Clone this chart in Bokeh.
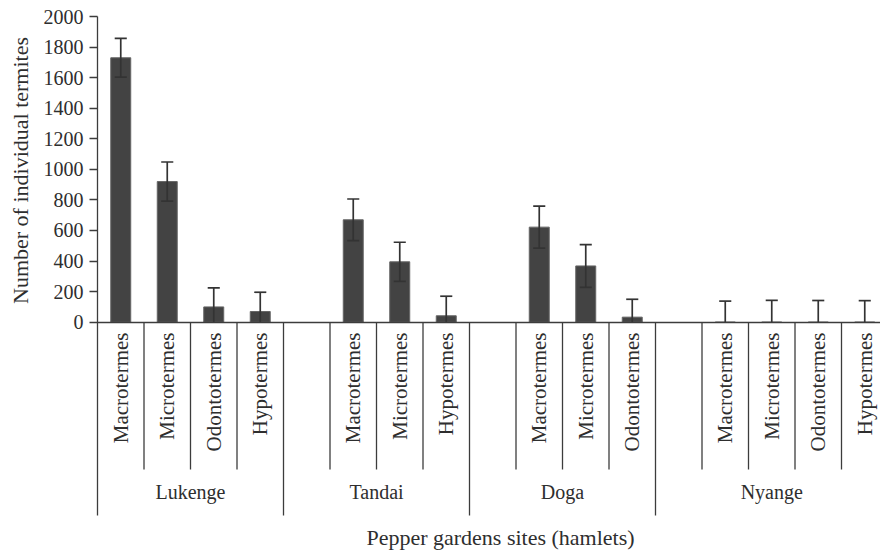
import math
from bokeh.plotting import figure
from bokeh.models import Range1d, FixedTicker, Label
from bokeh.core.properties import value
from bokeh.embed import file_html
from bokeh.resources import INLINE

# ---- data -------------------------------------------------------------
groups = ["Lukenge", "Tandai", "Doga", "Nyange"]
genera_lukenge = ["Macrotermes", "Microtermes", "Odontotermes", "Hypotermes"]
genera_tandai = ["Macrotermes", "Microtermes", "Hypotermes"]
genera_doga = ["Macrotermes", "Microtermes", "Odontotermes"]
genera_nyange = ["Macrotermes", "Microtermes", "Odontotermes", "Hypotermes"]
counts_lukenge = [1730, 920, 100, 70]
counts_tandai = [670, 395, 42]
counts_doga = [622, 368, 33]
counts_nyange = [0, 0, 0, 0]
err_lukenge = [127, 128, 125, 126]
err_tandai = [136, 128, 128]
err_doga = [137, 140, 117]
err_nyange = [138, 143, 142, 141]
y_ticks = [0, 200, 400, 600, 800, 1000, 1200, 1400, 1600, 1800, 2000]
y_title = "Number of individual termites"
x_title = "Pepper gardens sites (hamlets)"

genera = [genera_lukenge, genera_tandai, genera_doga, genera_nyange]
counts = [counts_lukenge, counts_tandai, counts_doga, counts_nyange]
errors = [err_lukenge, err_tandai, err_doga, err_nyange]

# ---- layout (pixel geometry -> data ranges) ---------------------------
FONT = "Liberation Serif"
TXT = "#2e2e2e"
LINE = "#3c3c3c"
W, H = 880, 553
AXIS_X = 97.0          # px of category origin
ZERO_Y = 321.7         # px of value 0
TOP_Y = 16.0           # px of value 2000
SLOT_PX = 46.5
Y_PX = (ZERO_Y - TOP_Y) / 2000.0

def px_to_x(px):
    return (px - AXIS_X) / SLOT_PX

def py_to_y(py):
    return (ZERO_Y - py) / Y_PX

X_START, X_END = px_to_x(0), px_to_x(W)
Y_START, Y_END = py_to_y(H), py_to_y(0)
LINE_BOTTOM = py_to_y(515)   # bottom of long dividers / value axis line
SHORT_END = py_to_y(469)     # bottom of short dividers
LABEL_TOP = py_to_y(332)     # top end of rotated category labels
GROUP_Y = py_to_y(491)       # group label centre

xs, vals, errs, names = [], [], [], []
spans = []
slot = 0
for gi, (gen, cnt, err) in enumerate(zip(genera, counts, errors)):
    start = slot
    if gi > 0:
        slot += 1          # blank category before each later group
    for n, c, e in zip(gen, cnt, err):
        xs.append(slot + 0.5)
        vals.append(c)
        errs.append(e)
        names.append(n)
        slot += 1
    spans.append((start, slot))

p = figure(width=W, height=H, output_backend="svg", toolbar_location=None,
           x_range=Range1d(X_START, X_END), y_range=Range1d(Y_START, Y_END),
           min_border=0)
p.outline_line_color = None
p.xgrid.visible = False
p.ygrid.visible = False
p.background_fill_color = "white"
p.border_fill_color = "white"

# value axis placed at category origin
ax = p.yaxis[0]
ax.fixed_location = 0
ax.bounds = (LINE_BOTTOM, 2000)
ax.ticker = FixedTicker(ticks=y_ticks)
ax.major_tick_out = 8
ax.major_tick_in = 0
ax.minor_tick_line_color = None
ax.axis_line_color = LINE
ax.axis_line_width = 1.3
ax.major_tick_line_color = LINE
ax.major_tick_line_width = 1.3
ax.major_label_standoff = 6
ax.major_label_text_font = FONT
ax.major_label_text_font_size = "20px"
ax.major_label_text_color = TXT

# category axis line at zero
xa = p.xaxis[0]
xa.fixed_location = 0
xa.bounds = (0, X_END)
xa.ticker = FixedTicker(ticks=[])
xa.minor_tick_line_color = None
xa.major_tick_line_color = None
xa.axis_line_color = LINE
xa.axis_line_width = 1.3

# bars
p.vbar(x=xs, top=vals, bottom=0, width=0.43, fill_color="#434343",
       line_color="#666666", line_width=1)

# error bars (clipped at zero like the original axis)
upper = [v + e for v, e in zip(vals, errs)]
lower = [max(v - e, 0) for v, e in zip(vals, errs)]
p.segment(x0=xs, y0=lower, x1=xs, y1=upper, line_color="#333333", line_width=1.7)
cw = 0.13
p.segment(x0=[x - cw for x in xs], y0=upper, x1=[x + cw for x in xs], y1=upper,
          line_color="#333333", line_width=1.7)
bx = [x for x, v, e in zip(xs, vals, errs) if v - e > 0]
by = [v - e for v, e in zip(vals, errs) if v - e > 0]
p.segment(x0=[x - cw for x in bx], y0=by, x1=[x + cw for x in bx], y1=by,
          line_color="#333333", line_width=1.7)

# category dividers
short_x, long_x = [], []
for i, (s, e) in enumerate(spans):
    if i > 0:
        long_x.append(s)
    for b in range(s + 1, e):
        short_x.append(b)
long_x.append(spans[-1][1])
p.segment(x0=short_x, y0=[0] * len(short_x), x1=short_x, y1=[SHORT_END] * len(short_x),
          line_color=LINE, line_width=1.3)
p.segment(x0=long_x, y0=[0] * len(long_x), x1=long_x, y1=[LINE_BOTTOM] * len(long_x),
          line_color=LINE, line_width=1.3)

# category labels
p.text(x=xs, y=[LABEL_TOP] * len(xs), text=names, angle=math.pi / 2,
       text_align="right", text_baseline="middle",
       text_font=value(FONT), text_font_size="21px", text_color=TXT)

# group labels
gx = [(s + e) / 2 for s, e in spans]
p.text(x=gx, y=[GROUP_Y] * len(gx), text=groups, text_align="center",
       text_baseline="middle", text_font=value(FONT), text_font_size="20px",
       text_color=TXT)

# axis titles
p.add_layout(Label(x=px_to_x(20), y=py_to_y(170), text=y_title, angle=math.pi / 2,
                   text_align="center", text_baseline="middle", text_font=FONT,
                   text_font_size="22px", text_color=TXT))
p.add_layout(Label(x=px_to_x(500), y=py_to_y(537), text=x_title, text_align="center",
                   text_baseline="middle", text_font=FONT,
                   text_font_size="22px", text_color=TXT))

open("out.html", "w").write(file_html(p, INLINE))
